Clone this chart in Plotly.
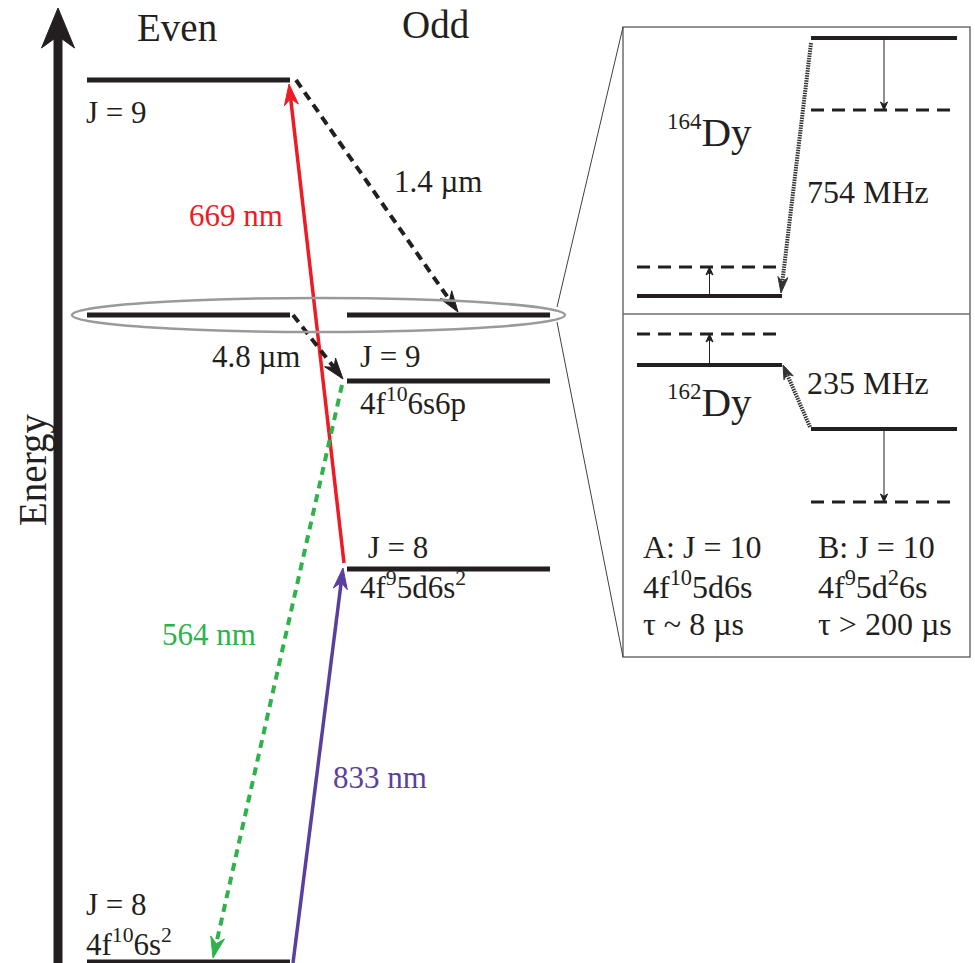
import numpy as np
import plotly.graph_objects as go

# ---------------- data (diagram units: x = column position, y = energy, arbitrary units) ----------------
# main diagram levels
even_x = [87, 290]
odd_x = [347, 550]
even_level_names = ["J = 9 (even)", "A: J = 10", "J = 8 ground"]
even_level_E = [883, 648, 1]
odd_level_names = ["B: J = 10", "J = 9 4f10 6s6p", "J = 8 4f9 5d6s2"]
odd_level_E = [648, 582, 394]

# transitions: label, (x0, E0) -> (x1, E1), colour, dash
trans_labels = ["669 nm", "1.4 µm", "4.8 µm", "564 nm", "833 nm"]
trans_x0 = [344, 296, 293, 342, 293]
trans_E0 = [400, 883, 648, 578, 0]
trans_x1 = [289, 458, 343, 213, 343]
trans_E1 = [879, 651, 584, 5, 395]
trans_colors = ["#ED1C24", "#231F20", "#231F20", "#2DB34A", "#5B3F9E"]
trans_dash = ["solid", "9px,6px", "9px,6px", "8px,6px", "solid"]

# inset: isotope shifts (A left, B right)
inset_A_x = [637, 782]
inset_B_x = [811, 957]
dy164_A = [667, 696]   # unperturbed, shifted
dy164_B = [925, 853]
dy162_A = [598, 629]
dy162_B = [534, 461]
shift_labels = ["754 MHz", "235 MHz"]

TXT = "#231F20"
FONT = "Liberation Serif"

fig = go.Figure()


def line(xs, ys, color=TXT, width=5, dash="solid"):
    fig.add_trace(go.Scatter(x=xs, y=ys, mode="lines", hoverinfo="skip",
                             line=dict(color=color, width=width, dash=dash),
                             showlegend=False, cliponaxis=False))


def head(tail, tip, L, W, color):
    t = np.array(tail, float); p = np.array(tip, float)
    u = (p - t) / np.linalg.norm(p - t)
    n = np.array([-u[1], u[0]])
    base = p - u * L
    left = base + n * W / 2
    right = base - n * W / 2
    notch = p - u * L * 0.7
    pts = [p, left, notch, right, p]
    fig.add_trace(go.Scatter(x=[q[0] for q in pts], y=[q[1] for q in pts], mode="lines",
                             fill="toself", fillcolor=color, line=dict(color=color, width=1),
                             hoverinfo="skip", showlegend=False, cliponaxis=False))
    return p - u * L * 0.6


def arrow(tail, tip, color, width, dash, L=20, W=14):
    end = head(tail, tip, L, W, color)
    line([tail[0], end[0]], [tail[1], end[1]], color=color, width=width, dash=dash)


# energy axis
e_tip = (58, 955)
end = head((58, 0), e_tip, 40, 33, TXT)
line([58, 58], [0, end[1]], width=9)

# ellipse
fig.add_shape(type="circle", x0=72, x1=565, y0=631, y1=665, line=dict(color="#9A9A9A", width=2.5))

# main levels
for E in even_level_E:
    line(even_x, [E, E], width=5)
for E in odd_level_E:
    line(odd_x, [E, E], width=5)

# transitions
for i in range(len(trans_labels)):
    w = 3.5 if trans_colors[i] != TXT else 4
    if i == 3:
        w = 4
    arrow((trans_x0[i], trans_E0[i]), (trans_x1[i], trans_E1[i]), trans_colors[i], w,
          trans_dash[i], L=21, W=14)

# inset box and connector lines
fig.add_shape(type="rect", x0=623, x1=970, y0=306, y1=936, line=dict(color="#6D6E71", width=1.5))
fig.add_shape(type="line", x0=623, x1=970, y0=649, y1=649, line=dict(color="#6D6E71", width=1.5))
fig.add_shape(type="line", x0=557, x1=623, y0=656, y1=936, line=dict(color="#414042", width=1))
fig.add_shape(type="line", x0=557, x1=623, y0=641, y1=306, line=dict(color="#414042", width=1))

# inset levels
for A, B in [(dy164_A, dy164_B), (dy162_A, dy162_B)]:
    line(inset_A_x, [A[0]] * 2, width=4)
    line(inset_A_x, [A[1]] * 2, width=3, dash="13px,8px")
    line(inset_B_x, [B[0]] * 2, width=4)
    line(inset_B_x, [B[1]] * 2, width=3, dash="13px,8px")
    xa = (inset_A_x[0] + inset_A_x[1]) / 2
    xb = (inset_B_x[0] + inset_B_x[1]) / 2
    arrow((xa, A[0]), (xa, A[1]), TXT, 1, "solid", L=8, W=7)
    arrow((xb, B[0]), (xb, B[1]), TXT, 1, "solid", L=8, W=7)

# isotope-shift dotted arrows
arrow((inset_B_x[0], dy164_B[0] - 5), (inset_A_x[1] - 1, dy164_A[0] + 3), "#333333", 4, "1.5px,1px", L=16, W=10)
arrow((inset_B_x[0] - 1, dy162_B[0] + 2), (inset_A_x[1] + 1, dy162_A[0]), "#333333", 4, "1.5px,1px", L=14, W=10)

# ---------------- text ----------------
def txt(x, y, s, size=31, color=TXT, xanchor="left", angle=0):
    fig.add_annotation(x=x, y=y, text=s, showarrow=False, xanchor=xanchor, yanchor="middle",
                       align="left", textangle=angle, font=dict(family=FONT, size=size, color=color))


txt(177, 936, "Even", size=39, xanchor="center")
txt(436, 939, "Odd", size=39, xanchor="center")
txt(33, 493, "Energy", size=39, xanchor="center", angle=-90)

txt(84, 851, "J = 9")
txt(236, 748, trans_labels[0], color=trans_colors[0], xanchor="center")
txt(438, 782, trans_labels[1], xanchor="center")
txt(256, 607, trans_labels[2], xanchor="center")
txt(358, 607, "J = 9")
txt(358, 562, "4f<sup>10</sup>6s6p")
txt(358, 396, "&nbsp;J = 8<br>4f<sup>9</sup>5d6s<sup>2</sup>")
txt(209, 329, trans_labels[3], color=trans_colors[3], xanchor="center")
txt(380, 186, trans_labels[4], color=trans_colors[4], xanchor="center")
txt(84, 39, "J = 8<br>4f<sup>10</sup>6s<sup>2</sup>")

txt(709, 831, "<sup><span style='font-size:23px'>164</span></sup>Dy", size=41, xanchor="center")
txt(805, 771, shift_labels[0], size=32)
txt(709, 561, "<sup><span style='font-size:23px'>162</span></sup>Dy", size=41, xanchor="center")
txt(805, 580, shift_labels[1], size=32)

txt(641, 416, "A: J = 10", size=32)
txt(641, 378, "4f<sup>10</sup>5d6s", size=32)
txt(641, 339, "τ ~ 8 µs", size=32)
txt(816, 416, "B: J = 10", size=32)
txt(816, 378, "4f<sup>9</sup>5d<sup>2</sup>6s", size=32)
txt(816, 339, "τ > 200 µs", size=32)

fig.update_layout(
    width=975, height=963, margin=dict(l=0, r=0, t=0, b=0),
    paper_bgcolor="white", plot_bgcolor="white", showlegend=False,
    xaxis=dict(range=[0, 975], visible=False, fixedrange=True),
    yaxis=dict(range=[0, 963], visible=False, fixedrange=True),
)
fig.write_html("out.html")
